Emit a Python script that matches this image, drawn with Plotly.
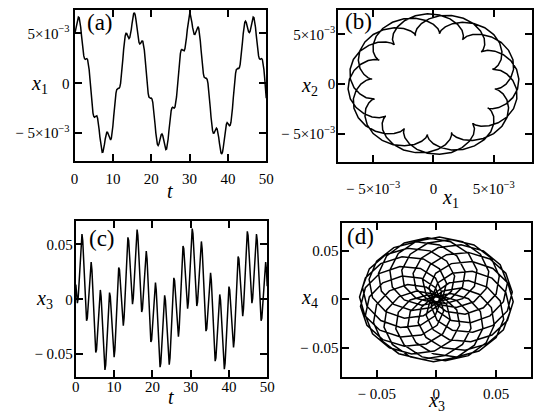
import plotly.graph_objects as go

# sampling times (t = 0 ... 50, step 0.2)
t = [round(0.2 * i, 1) for i in range(251)]

# x1, x2 in units of 1e-3
x1_milli = [
    5.08, 5.23, 5.58, 6.02, 6.41, 6.64, 6.59, 6.23, 5.61, 4.81,
    3.99, 3.26, 2.75, 2.47, 2.40, 2.45, 2.48, 2.37, 2.00, 1.37,
    0.50, -0.50, -1.50, -2.37, -2.98, -3.32, -3.40, -3.34, -3.25, -3.26,
    -3.49, -3.94, -4.61, -5.36, -6.09, -6.64, -6.91, -6.89, -6.58, -6.10,
    -5.58, -5.15, -4.91, -4.90, -5.09, -5.36, -5.61, -5.68, -5.49, -5.00,
    -4.25, -3.34, -2.40, -1.58, -0.98, -0.63, -0.50, -0.50, -0.50, -0.37,
    0.00, 0.63, 1.48, 2.45, 3.40, 4.21, 4.75, 5.00, 4.99, 4.81,
    4.61, 4.49, 4.59, 4.90, 5.41, 6.02, 6.58, 6.97, 7.08, 6.89,
    6.41, 5.77, 5.09, 4.49, 4.11, 3.94, 3.99, 4.13, 4.25, 4.21,
    3.90, 3.32, 2.48, 1.50, 0.50, -0.37, -1.00, -1.37, -1.50, -1.50,
    -1.48, -1.58, -1.90, -2.47, -3.25, -4.13, -4.99, -5.68, -6.11, -6.23,
    -6.09, -5.77, -5.41, -5.15, -5.08, -5.23, -5.58, -6.02, -6.41, -6.64,
    -6.59, -6.23, -5.61, -4.81, -3.99, -3.26, -2.75, -2.47, -2.40, -2.45,
    -2.48, -2.37, -2.00, -1.37, -0.50, 0.50, 1.50, 2.37, 2.98, 3.32,
    3.40, 3.34, 3.25, 3.26, 3.49, 3.94, 4.61, 5.36, 6.09, 6.64,
    6.91, 6.89, 6.58, 6.10, 5.58, 5.15, 4.91, 4.90, 5.09, 5.36,
    5.61, 5.68, 5.49, 5.00, 4.25, 3.34, 2.40, 1.58, 0.98, 0.63,
    0.50, 0.50, 0.50, 0.37, 0.00, -0.63, -1.48, -2.45, -3.40, -4.21,
    -4.75, -5.00, -4.99, -4.81, -4.61, -4.49, -4.59, -4.90, -5.41, -6.02,
    -6.58, -6.97, -7.08, -6.89, -6.41, -5.77, -5.09, -4.49, -4.11, -3.94,
    -3.99, -4.13, -4.25, -4.21, -3.90, -3.32, -2.48, -1.50, -0.50, 0.37,
    1.00, 1.37, 1.50, 1.50, 1.48, 1.58, 1.90, 2.47, 3.25, 4.13,
    4.99, 5.68, 6.11, 6.23, 6.09, 5.77, 5.41, 5.15, 5.08, 5.23,
    5.58, 6.02, 6.41, 6.64, 6.59, 6.23, 5.61, 4.81, 3.99, 3.26,
    2.75, 2.47, 2.40, 2.45, 2.48, 2.37, 2.00, 1.37, 0.50, -0.50,
    -1.50,
]
x2_milli = [
    -0.50, -0.50, -0.37, 0.00, 0.63, 1.48, 2.45, 3.40, 4.21, 4.75,
    5.00, 4.99, 4.81, 4.61, 4.49, 4.59, 4.90, 5.41, 6.02, 6.58,
    6.97, 7.08, 6.89, 6.41, 5.77, 5.09, 4.49, 4.11, 3.94, 3.99,
    4.13, 4.25, 4.21, 3.90, 3.32, 2.48, 1.50, 0.50, -0.37, -1.00,
    -1.37, -1.50, -1.50, -1.48, -1.58, -1.90, -2.47, -3.25, -4.13, -4.99,
    -5.68, -6.11, -6.23, -6.09, -5.77, -5.41, -5.15, -5.08, -5.23, -5.58,
    -6.02, -6.41, -6.64, -6.59, -6.23, -5.61, -4.81, -3.99, -3.26, -2.75,
    -2.47, -2.40, -2.45, -2.48, -2.37, -2.00, -1.37, -0.50, 0.50, 1.50,
    2.37, 2.98, 3.32, 3.40, 3.34, 3.25, 3.26, 3.49, 3.94, 4.61,
    5.36, 6.09, 6.64, 6.91, 6.89, 6.58, 6.10, 5.58, 5.15, 4.91,
    4.90, 5.09, 5.36, 5.61, 5.68, 5.49, 5.00, 4.25, 3.34, 2.40,
    1.58, 0.98, 0.63, 0.50, 0.50, 0.50, 0.37, 0.00, -0.63, -1.48,
    -2.45, -3.40, -4.21, -4.75, -5.00, -4.99, -4.81, -4.61, -4.49, -4.59,
    -4.90, -5.41, -6.02, -6.58, -6.97, -7.08, -6.89, -6.41, -5.77, -5.09,
    -4.49, -4.11, -3.94, -3.99, -4.13, -4.25, -4.21, -3.90, -3.32, -2.48,
    -1.50, -0.50, 0.37, 1.00, 1.37, 1.50, 1.50, 1.48, 1.58, 1.90,
    2.47, 3.25, 4.13, 4.99, 5.68, 6.11, 6.23, 6.09, 5.77, 5.41,
    5.15, 5.08, 5.23, 5.58, 6.02, 6.41, 6.64, 6.59, 6.23, 5.61,
    4.81, 3.99, 3.26, 2.75, 2.47, 2.40, 2.45, 2.48, 2.37, 2.00,
    1.37, 0.50, -0.50, -1.50, -2.37, -2.98, -3.32, -3.40, -3.34, -3.25,
    -3.26, -3.49, -3.94, -4.61, -5.36, -6.09, -6.64, -6.91, -6.89, -6.58,
    -6.10, -5.58, -5.15, -4.91, -4.90, -5.09, -5.36, -5.61, -5.68, -5.49,
    -5.00, -4.25, -3.34, -2.40, -1.58, -0.98, -0.63, -0.50, -0.50, -0.50,
    -0.37, 0.00, 0.63, 1.48, 2.45, 3.40, 4.21, 4.75, 5.00, 4.99,
    4.81, 4.61, 4.49, 4.59, 4.90, 5.41, 6.02, 6.58, 6.97, 7.08,
    6.89,
]
# x3, x4 in units of 1e-3
x3_milli = [
    13.4, 1.1, -3.6, 0.7, 12.6, 28.8, 44.9, 56.2, 59.5, 53.5,
    39.4, 20.7, 1.7, -12.7, -19.5, -17.1, -7.1, 7.5, 22.0, 31.9,
    34.0, 26.9, 12.0, -7.5, -26.9, -41.7, -48.5, -46.1, -35.7, -20.7,
    -5.4, 5.3, 8.5, 2.6, -10.9, -28.8, -46.6, -59.5, -64.4, -59.9,
    -47.4, -30.1, -12.6, 0.6, 6.1, 2.6, -8.5, -24.1, -39.4, -50.1,
    -52.7, -46.1, -31.5, -12.3, 7.1, 21.9, 29.0, 26.9, 17.0, 2.5,
    -12.0, -21.9, -24.1, -17.1, -2.5, 16.7, 35.7, 50.1, 56.4, 53.5,
    42.5, 26.8, 10.9, -0.6, -4.4, 0.7, 13.4, 30.5, 47.4, 59.5,
    63.6, 58.2, 44.9, 26.8, 8.5, -5.3, -11.6, -8.7, 1.7, 16.7,
    31.5, 41.7, 43.9, 36.9, 22.0, 2.5, -17.0, -31.9, -39.0, -36.9,
    -26.9, -12.3, 2.5, 12.7, 15.3, 8.7, -5.4, -24.1, -42.5, -56.2,
    -61.9, -58.2, -46.6, -30.1, -13.4, -1.1, 3.6, -0.7, -12.6, -28.8,
    -44.9, -56.2, -59.5, -53.5, -39.4, -20.7, -1.7, 12.7, 19.5, 17.1,
    7.1, -7.5, -22.0, -31.9, -34.0, -26.9, -12.0, 7.5, 26.9, 41.7,
    48.5, 46.1, 35.7, 20.7, 5.4, -5.3, -8.5, -2.6, 10.9, 28.8,
    46.6, 59.5, 64.4, 59.9, 47.4, 30.1, 12.6, -0.6, -6.1, -2.6,
    8.5, 24.1, 39.4, 50.1, 52.7, 46.1, 31.5, 12.3, -7.1, -21.9,
    -29.0, -26.9, -17.0, -2.5, 12.0, 21.9, 24.1, 17.1, 2.5, -16.7,
    -35.7, -50.1, -56.4, -53.5, -42.5, -26.8, -10.9, 0.6, 4.4, -0.7,
    -13.4, -30.5, -47.4, -59.5, -63.6, -58.2, -44.9, -26.8, -8.5, 5.3,
    11.6, 8.7, -1.7, -16.7, -31.5, -41.7, -43.9, -36.9, -22.0, -2.5,
    17.0, 31.9, 39.0, 36.9, 26.9, 12.3, -2.5, -12.7, -15.3, -8.7,
    5.4, 24.1, 42.5, 56.2, 61.9, 58.2, 46.6, 30.1, 13.4, 1.1,
    -3.6, 0.7, 12.6, 28.8, 44.9, 56.2, 59.5, 53.5, 39.4, 20.7,
    1.7, -12.7, -19.5, -17.1, -7.1, 7.5, 22.0, 31.9, 34.0, 26.9,
    12.0,
]
x4_milli = [
    26.9, 17.0, 2.5, -12.0, -21.9, -24.1, -17.1, -2.5, 16.7, 35.7,
    50.1, 56.4, 53.5, 42.5, 26.8, 10.9, -0.6, -4.4, 0.7, 13.4,
    30.5, 47.4, 59.5, 63.6, 58.2, 44.9, 26.8, 8.5, -5.3, -11.6,
    -8.7, 1.7, 16.7, 31.5, 41.7, 43.9, 36.9, 22.0, 2.5, -17.0,
    -31.9, -39.0, -36.9, -26.9, -12.3, 2.5, 12.7, 15.3, 8.7, -5.4,
    -24.1, -42.5, -56.2, -61.9, -58.2, -46.6, -30.1, -13.4, -1.1, 3.6,
    -0.7, -12.6, -28.8, -44.9, -56.2, -59.5, -53.5, -39.4, -20.7, -1.7,
    12.7, 19.5, 17.1, 7.1, -7.5, -22.0, -31.9, -34.0, -26.9, -12.0,
    7.5, 26.9, 41.7, 48.5, 46.1, 35.7, 20.7, 5.4, -5.3, -8.5,
    -2.6, 10.9, 28.8, 46.6, 59.5, 64.4, 59.9, 47.4, 30.1, 12.6,
    -0.6, -6.1, -2.6, 8.5, 24.1, 39.4, 50.1, 52.7, 46.1, 31.5,
    12.3, -7.1, -21.9, -29.0, -26.9, -17.0, -2.5, 12.0, 21.9, 24.1,
    17.1, 2.5, -16.7, -35.7, -50.1, -56.4, -53.5, -42.5, -26.8, -10.9,
    0.6, 4.4, -0.7, -13.4, -30.5, -47.4, -59.5, -63.6, -58.2, -44.9,
    -26.8, -8.5, 5.3, 11.6, 8.7, -1.7, -16.7, -31.5, -41.7, -43.9,
    -36.9, -22.0, -2.5, 17.0, 31.9, 39.0, 36.9, 26.9, 12.3, -2.5,
    -12.7, -15.3, -8.7, 5.4, 24.1, 42.5, 56.2, 61.9, 58.2, 46.6,
    30.1, 13.4, 1.1, -3.6, 0.7, 12.6, 28.8, 44.9, 56.2, 59.5,
    53.5, 39.4, 20.7, 1.7, -12.7, -19.5, -17.1, -7.1, 7.5, 22.0,
    31.9, 34.0, 26.9, 12.0, -7.5, -26.9, -41.7, -48.5, -46.1, -35.7,
    -20.7, -5.4, 5.3, 8.5, 2.6, -10.9, -28.8, -46.6, -59.5, -64.4,
    -59.9, -47.4, -30.1, -12.6, 0.6, 6.1, 2.6, -8.5, -24.1, -39.4,
    -50.1, -52.7, -46.1, -31.5, -12.3, 7.1, 21.9, 29.0, 26.9, 17.0,
    2.5, -12.0, -21.9, -24.1, -17.1, -2.5, 16.7, 35.7, 50.1, 56.4,
    53.5, 42.5, 26.8, 10.9, -0.6, -4.4, 0.7, 13.4, 30.5, 47.4,
    59.5,
]

t_ticks = [0, 10, 20, 30, 40, 50]
small_ticks = [-0.005, 0, 0.005]
small_text = ["\u2212 5\u00d710<sup>\u22123</sup>", "0", "5\u00d710<sup>\u22123</sup>"]
big_ticks = [-0.05, 0, 0.05]
big_text = ["\u2212 0.05", "0", "0.05"]

x1 = [v * 1e-3 for v in x1_milli]
x2 = [v * 1e-3 for v in x2_milli]
x3 = [v * 1e-3 for v in x3_milli]
x4 = [v * 1e-3 for v in x4_milli]

# The page has an 8 px body margin: lay out in page pixels, convert to figure pixels.
PAGE_OFF = 8
W, H = 549 - PAGE_OFF, 418 - PAGE_OFF
FONT = "Liberation Serif, Times New Roman, serif"


def px(x):
    return (x - PAGE_OFF) / W


def py(y):
    return 1 - (y - PAGE_OFF) / H


line = dict(color="black", width=1.5)
fig = go.Figure()
fig.add_trace(go.Scatter(x=t, y=x1, mode="lines", line=line, xaxis="x", yaxis="y"))
fig.add_trace(go.Scatter(x=x1, y=x2, mode="lines", line=line, xaxis="x2", yaxis="y2"))
fig.add_trace(go.Scatter(x=t, y=x3, mode="lines", line=line, xaxis="x3", yaxis="y3"))
fig.add_trace(go.Scatter(x=x3, y=x4, mode="lines", line=line, xaxis="x4", yaxis="y4"))

axis_common = dict(
    showline=True, linewidth=2, linecolor="black", mirror="ticks",
    ticks="inside", ticklen=7, tickwidth=1.5, tickcolor="black",
    showgrid=False, zeroline=False, tickfont=dict(family=FONT, size=15, color="black"),
    fixedrange=True,
)

fig.update_layout(
    width=W, height=H, margin=dict(l=0, r=0, t=0, b=0),
    paper_bgcolor="white", plot_bgcolor="white", showlegend=False,
    font=dict(family=FONT, color="black"),
    xaxis=dict(domain=[px(72), px(268)], range=[0, 50], anchor="y",
               tickvals=t_ticks, ticklabelstandoff=3, **axis_common),
    yaxis=dict(domain=[py(160), py(9)], range=[-0.00775, 0.00735], anchor="x",
               tickvals=small_ticks, ticktext=small_text, ticklabelstandoff=0, **axis_common),
    xaxis2=dict(domain=[px(341.7), px(539.3)], range=[-0.00789, 0.00813], anchor="y2",
                tickvals=small_ticks, ticktext=small_text, ticklabelstandoff=12, **axis_common),
    yaxis2=dict(domain=[py(161.7), py(9)], range=[-0.00789, 0.00747], anchor="x2",
                tickvals=small_ticks, ticktext=small_text, ticklabelstandoff=-2, **axis_common),
    xaxis3=dict(domain=[px(73.3), px(269)], range=[0, 50], anchor="y3",
                tickvals=t_ticks, ticklabelstandoff=-5, **axis_common),
    yaxis3=dict(domain=[py(377), py(221)], range=[-0.0709, 0.0709], anchor="x3",
                tickvals=big_ticks, ticktext=big_text, ticklabelstandoff=-2, **axis_common),
    xaxis4=dict(domain=[px(345), px(539)], range=[-0.0795, 0.0795], anchor="y4",
                tickvals=big_ticks, ticktext=big_text, ticklabelstandoff=2, **axis_common),
    yaxis4=dict(domain=[py(377), py(223)], range=[-0.0804, 0.0784], anchor="x4",
                tickvals=big_ticks, ticktext=big_text, ticklabelstandoff=-2, **axis_common),
)

labels = [
    ("<i>x</i><sub>1</sub>", 36, 84, 20),
    ("<i>t</i>", 170, 190, 20),
    ("<i>x</i><sub>2</sub>", 312, 86, 20),
    ("<i>x</i><sub>1</sub>", 456, 198, 20),
    ("<i>x</i><sub>3</sub>", 41, 299, 20),
    ("<i>t</i>", 171, 397, 20),
    ("<i>x</i><sub>4</sub>", 312, 298, 20),
    ("<i>x</i><sub>3</sub>", 442, 401, 20),
    ("(a)", 98, 22, 23),
    ("(b)", 362, 21, 23),
    ("(c)", 100, 238, 23),
    ("(d)", 364, 236, 23),
]
for text, x, y, size in labels:
    fig.add_annotation(x=px(x), y=py(y), xref="paper", yref="paper", text=text,
                       showarrow=False, xanchor="center", yanchor="middle",
                       font=dict(family=FONT, size=size, color="black"))

fig.write_html("out.html")
